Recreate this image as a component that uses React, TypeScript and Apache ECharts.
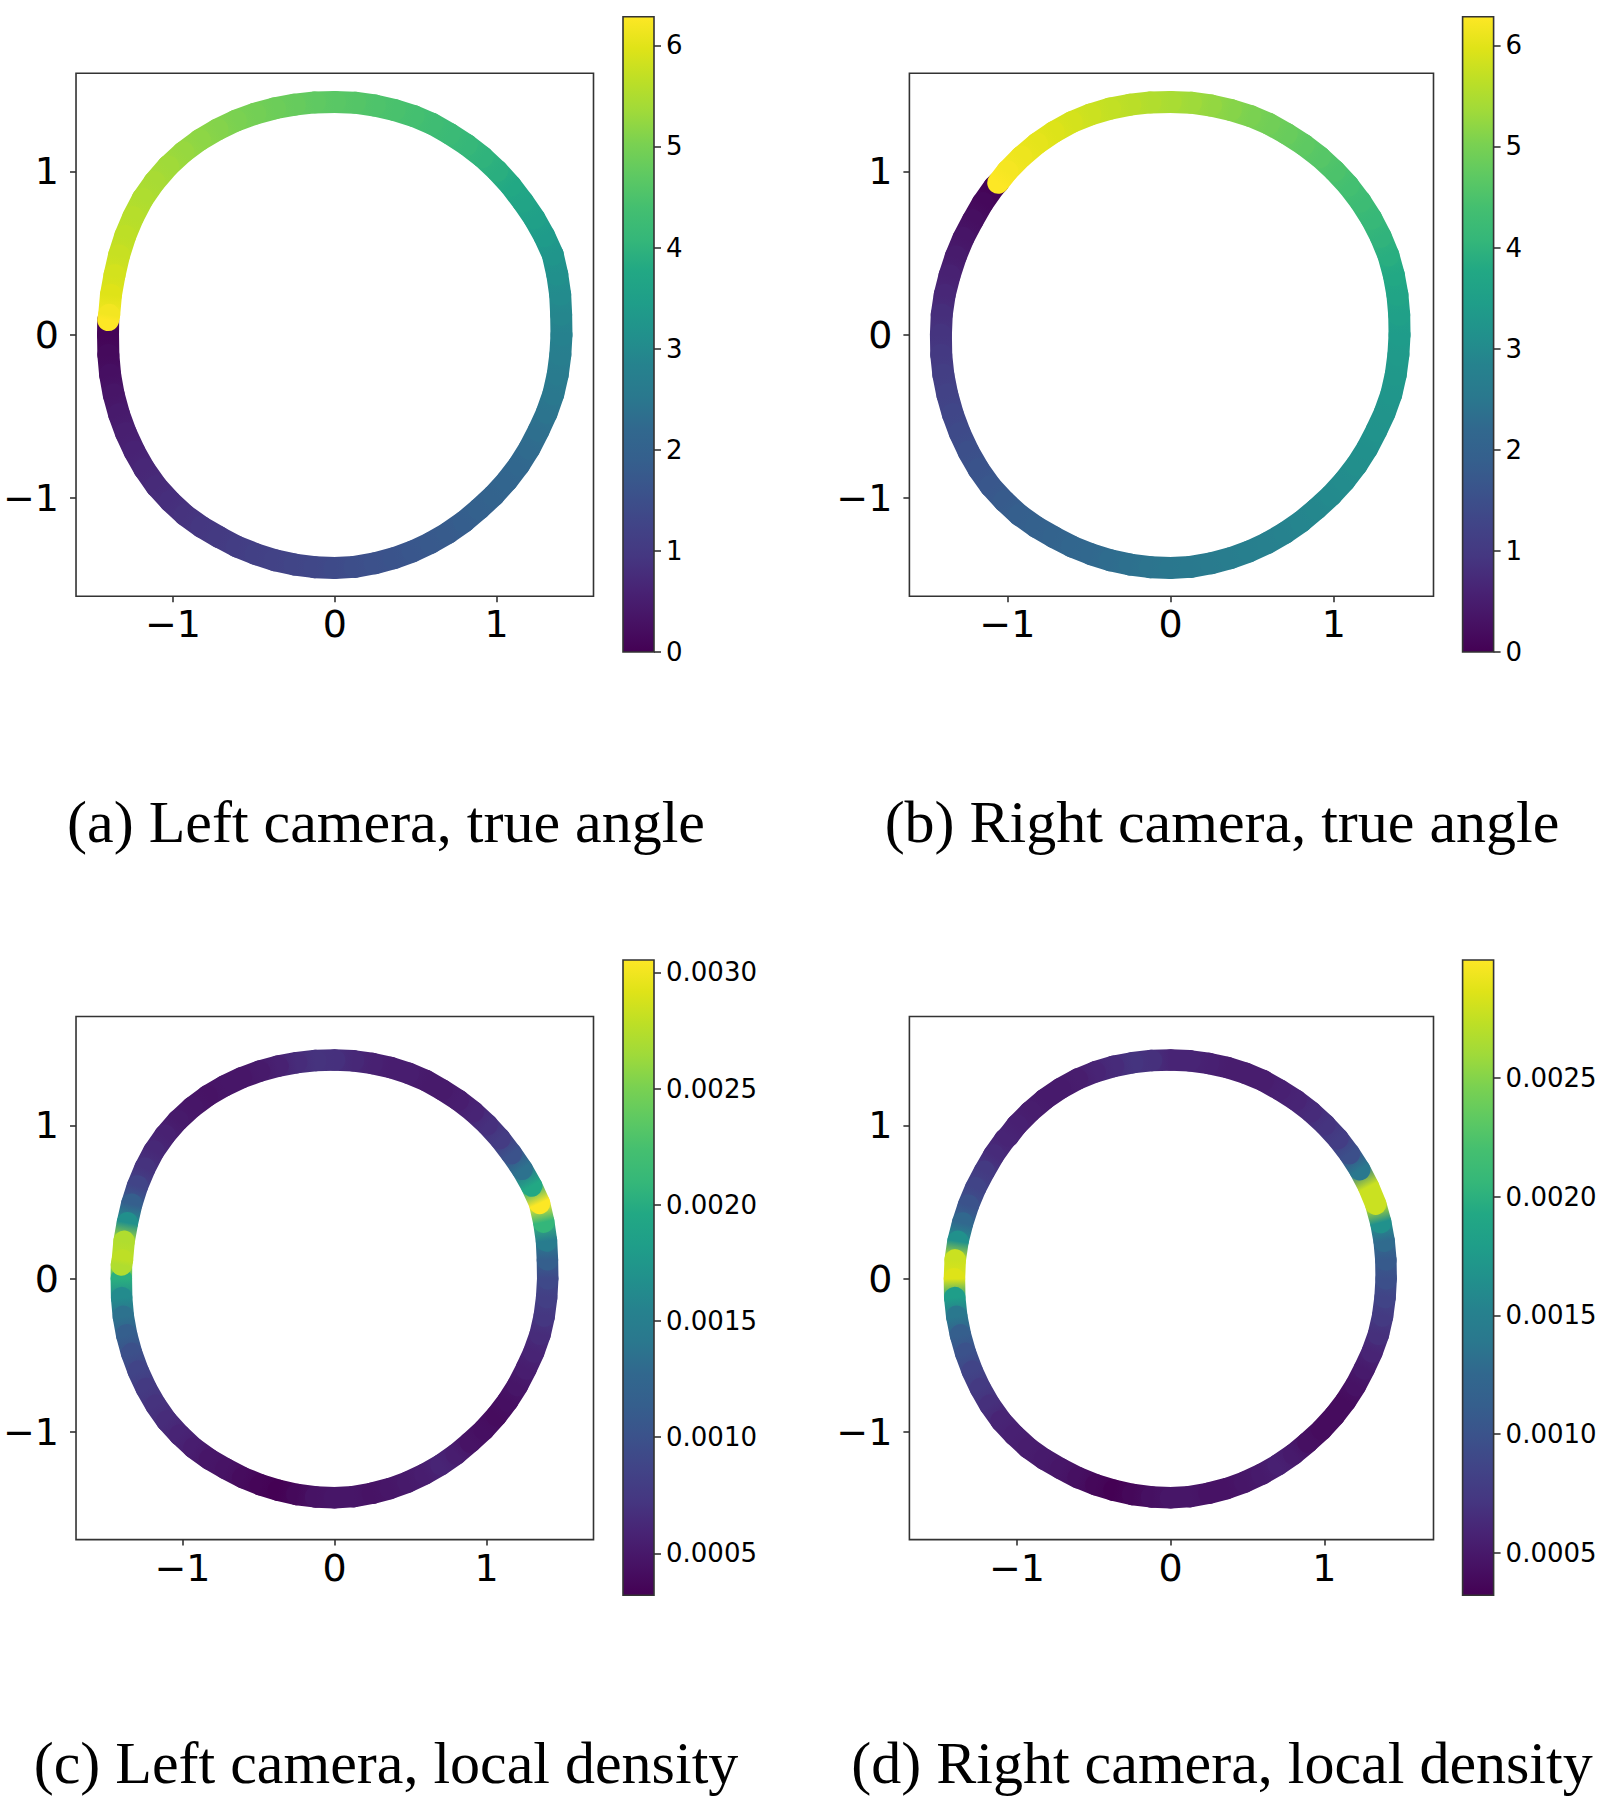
import React, { useEffect, useRef } from "react";
import * as echarts from "echarts";

// ---------- data ----------
// Left-camera embedding (panels a and c), in drawing order
const leftX = [-1.401, -1.402, -1.4, -1.389, -1.367, -1.334, -1.291, -1.238, -1.176, -1.103, -1.018, -0.926, -0.823, -0.715, -0.604, -0.488, -0.37, -0.248, -0.124, 0, 0.124, 0.247, 0.366, 0.482, 0.594, 0.7, 0.8, 0.893, 0.983, 1.065, 1.139, 1.204, 1.26, 1.311, 1.352, 1.379, 1.395, 1.402, 1.4, 1.394, 1.376, 1.348, 1.296, 1.234, 1.163, 1.088, 1.004, 0.913, 0.815, 0.71, 0.602, 0.487, 0.369, 0.247, 0.124, 0, -0.124, -0.248, -0.371, -0.492, -0.611, -0.725, -0.835, -0.937, -1.031, -1.115, -1.188, -1.247, -1.296, -1.334, -1.362, -1.384, -1.395, -1.401];
const leftY = [0.09, 0, -0.123, -0.245, -0.366, -0.486, -0.602, -0.715, -0.823, -0.926, -1.018, -1.103, -1.176, -1.238, -1.296, -1.342, -1.379, -1.406, -1.422, -1.427, -1.42, -1.398, -1.367, -1.325, -1.273, -1.212, -1.143, -1.065, -0.983, -0.893, -0.797, -0.695, -0.587, -0.477, -0.362, -0.243, -0.122, 0, 0.123, 0.246, 0.369, 0.491, 0.604, 0.713, 0.815, 0.913, 1.004, 1.088, 1.163, 1.23, 1.291, 1.339, 1.376, 1.403, 1.42, 1.425, 1.422, 1.408, 1.386, 1.353, 1.31, 1.256, 1.192, 1.117, 1.031, 0.935, 0.832, 0.72, 0.604, 0.486, 0.365, 0.244, 0.122, 0.09];
const leftTrueAngle = [0, 0.05, 0.15, 0.25, 0.36, 0.45, 0.53, 0.6, 0.67, 0.74, 0.8, 0.87, 0.94, 1.01, 1.08, 1.15, 1.21, 1.27, 1.33, 1.4, 1.47, 1.54, 1.6, 1.67, 1.73, 1.8, 1.87, 1.95, 2.02, 2.1, 2.17, 2.25, 2.34, 2.43, 2.52, 2.61, 2.7, 2.8, 2.91, 3.02, 3.13, 3.25, 3.38, 3.51, 3.64, 3.77, 3.9, 4.0, 4.1, 4.2, 4.3, 4.4, 4.46, 4.52, 4.59, 4.65, 4.72, 4.8, 4.87, 4.95, 5.03, 5.11, 5.19, 5.27, 5.35, 5.43, 5.5, 5.58, 5.65, 5.75, 5.86, 5.97, 6.18, 6.28];
const leftDensity = [0.00272, 0.00202, 0.00163, 0.00136, 0.00114, 0.00098, 0.00087, 0.00076, 0.0007, 0.00065, 0.00059, 0.00054, 0.00048, 0.00046, 0.0004, 0.00035, 0.00032, 0.00038, 0.00046, 0.00048, 0.00048, 0.00046, 0.00048, 0.00051, 0.00054, 0.00059, 0.00054, 0.00046, 0.00043, 0.0004, 0.00043, 0.00048, 0.00054, 0.00059, 0.00065, 0.00073, 0.00081, 0.00092, 0.00114, 0.00147, 0.00209, 0.00305, 0.00196, 0.00136, 0.001, 0.00078, 0.00068, 0.00059, 0.00054, 0.00051, 0.00051, 0.00054, 0.00054, 0.00057, 0.00062, 0.00068, 0.0007, 0.00065, 0.00057, 0.00051, 0.00048, 0.00048, 0.00046, 0.00048, 0.00051, 0.00057, 0.00062, 0.0007, 0.00087, 0.00114, 0.00168, 0.00272, 0.00278, 0.00272];

// Right-camera embedding (panels b and d), in drawing order
const rightX = [-1.056, -1.08, -1.151, -1.212, -1.269, -1.316, -1.354, -1.384, -1.402, -1.407, -1.405, -1.392, -1.368, -1.334, -1.291, -1.238, -1.176, -1.103, -1.018, -0.926, -0.823, -0.715, -0.604, -0.488, -0.37, -0.248, -0.124, 0, 0.124, 0.247, 0.366, 0.482, 0.594, 0.7, 0.8, 0.893, 0.983, 1.065, 1.139, 1.204, 1.26, 1.311, 1.352, 1.379, 1.395, 1.402, 1.4, 1.389, 1.367, 1.334, 1.287, 1.23, 1.163, 1.088, 1.004, 0.913, 0.815, 0.71, 0.602, 0.487, 0.369, 0.247, 0.124, 0, -0.124, -0.248, -0.371, -0.491, -0.606, -0.716, -0.819, -0.914, -1.001, -1.056];
const rightY = [0.93, 0.906, 0.806, 0.7, 0.592, 0.479, 0.363, 0.244, 0.123, 0, -0.123, -0.245, -0.366, -0.486, -0.602, -0.715, -0.823, -0.926, -1.018, -1.103, -1.176, -1.238, -1.296, -1.342, -1.379, -1.406, -1.422, -1.427, -1.42, -1.398, -1.367, -1.325, -1.273, -1.212, -1.143, -1.065, -0.983, -0.893, -0.797, -0.695, -0.587, -0.477, -0.362, -0.243, -0.122, 0, 0.123, 0.245, 0.366, 0.486, 0.6, 0.71, 0.815, 0.913, 1.004, 1.088, 1.163, 1.23, 1.291, 1.339, 1.376, 1.403, 1.42, 1.425, 1.422, 1.408, 1.384, 1.348, 1.301, 1.24, 1.17, 1.089, 1.001, 0.93];
const rightTrueAngle = [0, 0.02, 0.13, 0.24, 0.35, 0.46, 0.57, 0.68, 0.79, 0.9, 1.0, 1.1, 1.2, 1.3, 1.4, 1.5, 1.6, 1.7, 1.8, 1.88, 1.96, 2.04, 2.12, 2.2, 2.28, 2.36, 2.43, 2.5, 2.56, 2.61, 2.67, 2.72, 2.78, 2.83, 2.89, 2.94, 3.0, 3.04, 3.09, 3.13, 3.18, 3.22, 3.27, 3.31, 3.36, 3.4, 3.52, 3.64, 3.77, 3.89, 4.01, 4.13, 4.26, 4.38, 4.5, 4.61, 4.71, 4.82, 4.92, 5.03, 5.13, 5.24, 5.34, 5.45, 5.53, 5.62, 5.7, 5.78, 5.87, 5.95, 6.03, 6.12, 6.2, 6.28];
const rightDensity = [0.00059, 0.00059, 0.00064, 0.00075, 0.00086, 0.00099, 0.00126, 0.00166, 0.00278, 0.00286, 0.00179, 0.00139, 0.00112, 0.00099, 0.00086, 0.00075, 0.00067, 0.00059, 0.00056, 0.00053, 0.00051, 0.00048, 0.00043, 0.00037, 0.00032, 0.00037, 0.00043, 0.00048, 0.00048, 0.00045, 0.00045, 0.00048, 0.00051, 0.00056, 0.00051, 0.00043, 0.0004, 0.0004, 0.0004, 0.00045, 0.00051, 0.00059, 0.00067, 0.00075, 0.00086, 0.00096, 0.00107, 0.00128, 0.00166, 0.00278, 0.00278, 0.00139, 0.00096, 0.00078, 0.0007, 0.00064, 0.00059, 0.00056, 0.00053, 0.00053, 0.00053, 0.00056, 0.00059, 0.00059, 0.00067, 0.0007, 0.00064, 0.00059, 0.00053, 0.00051, 0.00051, 0.00053, 0.00056, 0.00059];

const positionTicks = [-1, 0, 1];
const angleTicks = [0, 1, 2, 3, 4, 5, 6];
const densityTicksLeft = [0.0005, 0.001, 0.0015, 0.002, 0.0025, 0.003];
const densityTicksRight = [0.0005, 0.001, 0.0015, 0.002, 0.0025];
const angleRange = [0, 6.2832];
const densityRangeLeft = [0.00032, 0.003053];
const densityRangeRight = [0.00032, 0.002997];
const captions = [
  "(a) Left camera, true angle",
  "(b) Right camera, true angle",
  "(c) Left camera, local density",
  "(d) Right camera, local density",
];

// ---------- viridis colormap ----------
const VIRIDIS = [
  "#440154", "#471365", "#482475", "#453781", "#414487", "#3b528b", "#355f8d",
  "#31688e", "#2a788e", "#26828e", "#21918c", "#1f9e89", "#22a884", "#35b779",
  "#44bf70", "#5ec962", "#7ad151", "#9fda3a", "#bddf26", "#dfe318", "#fde725",
];
const hexToRgb = (h: string) => [
  parseInt(h.slice(1, 3), 16),
  parseInt(h.slice(3, 5), 16),
  parseInt(h.slice(5, 7), 16),
];
const VIR_RGB = VIRIDIS.map(hexToRgb);
function viridis(t: number): string {
  const tt = Math.max(0, Math.min(1, t)) * (VIR_RGB.length - 1);
  const i = Math.min(Math.floor(tt), VIR_RGB.length - 2);
  const f = tt - i;
  const a = VIR_RGB[i];
  const b = VIR_RGB[i + 1];
  const c = a.map((v, k) => Math.round(v + (b[k] - v) * f));
  return `rgb(${c[0]},${c[1]},${c[2]})`;
}
const viridisStops = VIRIDIS.map((c, i) => ({ offset: i / (VIRIDIS.length - 1), color: c }));

const MINUS = "\u2212";
const fmtPos = (v: number) => (v < 0 ? MINUS + Math.abs(v) : String(v));

export default function App() {
  const ref = useRef<HTMLDivElement>(null);

  useEffect(() => {
    document.body.style.margin = "0";
    if (!ref.current) return;
    const chart = echarts.init(ref.current, undefined, { renderer: "svg" });

    const panels = [
      { left: 69.8, top: 73.3, w: 523.7, h: 523, xr: [-1.6, 1.6], yr: [-1.6, 1.6], xs: leftX, ys: leftY, vs: leftTrueAngle, vr: angleRange, ticks: angleTicks, fmt: (v: number) => String(v), lw: 22 },
      { left: 909.4, top: 73.3, w: 524.1, h: 523, xr: [-1.6, 1.61], yr: [-1.6, 1.6], xs: rightX, ys: rightY, vs: rightTrueAngle, vr: angleRange, ticks: angleTicks, fmt: (v: number) => String(v), lw: 22 },
      { left: 69.8, top: 1016.5, w: 523.7, h: 523.1, xr: [-1.7, 1.703], yr: [-1.7, 1.709], xs: leftX, ys: leftY, vs: leftDensity, vr: densityRangeLeft, ticks: densityTicksLeft, fmt: (v: number) => v.toFixed(4), lw: 21.5 },
      { left: 909.4, top: 1016.5, w: 524.1, h: 523.1, xr: [-1.7, 1.71], yr: [-1.7, 1.709], xs: rightX, ys: rightY, vs: rightDensity, vr: densityRangeRight, ticks: densityTicksRight, fmt: (v: number) => v.toFixed(4), lw: 21.5 },
    ];
    const cbars = [
      { left: 623, top: 16.7 },
      { left: 1462.6, top: 16.7 },
      { left: 623, top: 960 },
      { left: 1462.6, top: 960 },
    ];

    const grid: any[] = [];
    const xAxis: any[] = [];
    const yAxis: any[] = [];
    const series: any[] = [];
    const axisColor = "#333";

    panels.forEach((p, k) => {
      grid.push({
        left: p.left, top: p.top, width: p.w, height: p.h,
        show: true, borderColor: axisColor, borderWidth: 1.6, backgroundColor: "transparent",
      });
      const common = {
        type: "value",
        gridIndex: k,
        axisLine: { show: false, onZero: false },
        splitLine: { show: false },
        axisTick: { show: true, length: 6, lineStyle: { color: axisColor, width: 1.6 }, customValues: positionTicks },
        axisLabel: {
          customValues: positionTicks,
          formatter: fmtPos,
          fontSize: 38,
          fontFamily: "DejaVu Sans",
          color: "#000",
        },
      };
      xAxis.push({ ...common, position: "bottom", min: p.xr[0], max: p.xr[1], axisLabel: { ...common.axisLabel, margin: 9 } });
      yAxis.push({ ...common, position: "left", min: p.yr[0], max: p.yr[1], axisLabel: { ...common.axisLabel, margin: 17 } });

      const xs = p.xs, ys = p.ys, vs = p.vs;
      const [vmin, vmax] = p.vr;
      const col = (v: number) => viridis((v - vmin) / (vmax - vmin));
      series.push({
        type: "custom",
        xAxisIndex: k,
        yAxisIndex: k,
        data: xs.map((x, i) => [x, ys[i], vs[i]]),
        renderItem: (params: any, api: any) => {
          const i = params.dataIndex;
          if (i === 0) return { type: "group", children: [] };
          const a = api.coord([xs[i - 1], ys[i - 1]]);
          const b = api.coord([xs[i], ys[i]]);
          return {
            type: "line",
            shape: { x1: a[0], y1: a[1], x2: b[0], y2: b[1] },
            style: {
              stroke: new echarts.graphic.LinearGradient(
                a[0], a[1], b[0], b[1],
                [
                  { offset: 0, color: col(vs[i - 1]) },
                  { offset: 1, color: col(vs[i]) },
                ],
                true
              ),
              lineWidth: p.lw,
              lineCap: "round",
            },
          };
        },
      });
    });

    cbars.forEach((c, j) => {
      const k = 4 + j;
      const p = panels[j];
      grid.push({ left: c.left, top: c.top, width: 31, height: 635.3, show: false });
      xAxis.push({ type: "value", gridIndex: k, min: 0, max: 1, show: false });
      yAxis.push({
        type: "value",
        gridIndex: k,
        position: "right",
        min: p.vr[0],
        max: p.vr[1],
        axisLine: { show: false, onZero: false },
        splitLine: { show: false },
        axisTick: { show: true, length: 7, lineStyle: { color: axisColor, width: 1.6 }, customValues: p.ticks },
        axisLabel: {
          customValues: p.ticks,
          formatter: p.fmt,
          fontSize: 26,
          fontFamily: "DejaVu Sans",
          color: "#000",
          margin: 12,
        },
      });
      const vmin = p.vr[0], vmax = p.vr[1];
      series.push({
        type: "custom",
        xAxisIndex: k,
        yAxisIndex: k,
        data: [[0, vmin]],
        renderItem: (_params: any, api: any) => {
          const a = api.coord([0, vmax]);
          const b = api.coord([1, vmin]);
          return {
            type: "rect",
            shape: { x: a[0], y: a[1], width: b[0] - a[0], height: b[1] - a[1] },
            style: {
              fill: new echarts.graphic.LinearGradient(0, 1, 0, 0, viridisStops),
              stroke: axisColor,
              lineWidth: 1.6,
            },
          };
        },
      });
    });

    const capPos = [
      { x: 386, y: 822 },
      { x: 1222, y: 822 },
      { x: 386, y: 1763 },
      { x: 1222, y: 1763 },
    ];
    const graphic = captions.map((t, i) => ({
      type: "text",
      x: capPos[i].x,
      y: capPos[i].y,
      style: {
        text: t,
        font: '60px "Liberation Serif", "Times New Roman", serif',
        fill: "#000",
        align: "center",
        verticalAlign: "middle",
      },
    }));

    chart.setOption({
      animation: false,
      backgroundColor: "#fff",
      grid,
      xAxis,
      yAxis,
      series,
      graphic,
    });

    return () => chart.dispose();
  }, []);

  return <div ref={ref} style={{ width: 1601, height: 1800 }} />;
}
